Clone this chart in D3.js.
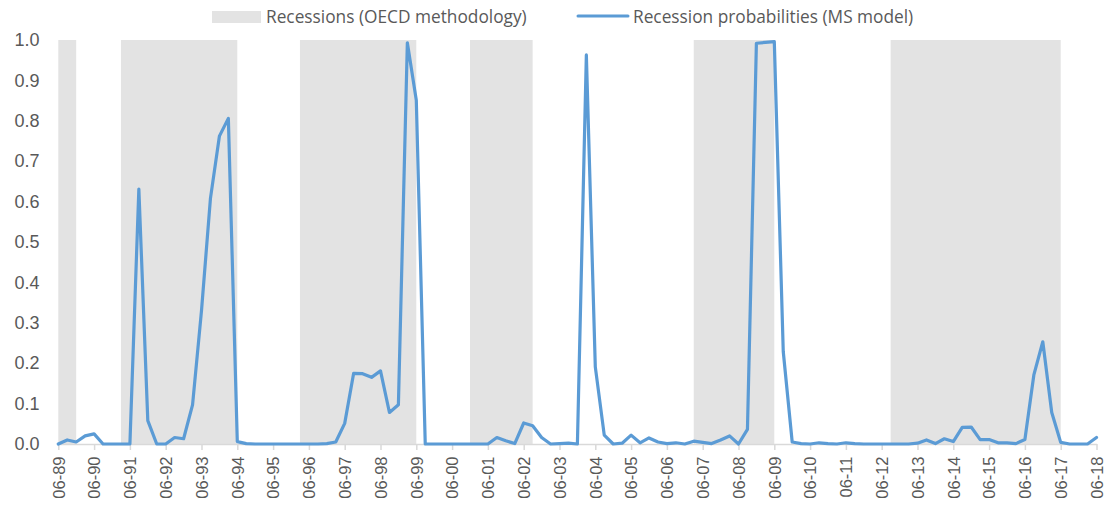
<!DOCTYPE html>
<html>
<head>
<meta charset="utf-8">
<script src="https://cdn.jsdelivr.net/npm/d3@7/dist/d3.min.js"></script>
<style>
  html, body { margin: 0; padding: 0; background: #fff; }
  svg { display: block; font-family: "Open Sans", "Noto Sans", sans-serif; }
</style>
</head>
<body>
<svg id="chart" width="1106" height="506"></svg>
<script>
// Quarterly categories (end-of-quarter month - year)
const quarters = [
  "06-89","09-89","12-89","03-90","06-90","09-90","12-90","03-91","06-91","09-91","12-91","03-92",
  "06-92","09-92","12-92","03-93","06-93","09-93","12-93","03-94","06-94","09-94","12-94","03-95",
  "06-95","09-95","12-95","03-96","06-96","09-96","12-96","03-97","06-97","09-97","12-97","03-98",
  "06-98","09-98","12-98","03-99","06-99","09-99","12-99","03-00","06-00","09-00","12-00","03-01",
  "06-01","09-01","12-01","03-02","06-02","09-02","12-02","03-03","06-03","09-03","12-03","03-04",
  "06-04","09-04","12-04","03-05","06-05","09-05","12-05","03-06","06-06","09-06","12-06","03-07",
  "06-07","09-07","12-07","03-08","06-08","09-08","12-08","03-09","06-09","09-09","12-09","03-10",
  "06-10","09-10","12-10","03-11","06-11","09-11","12-11","03-12","06-12","09-12","12-12","03-13",
  "06-13","09-13","12-13","03-14","06-14","09-14","12-14","03-15","06-15","09-15","12-15","03-16",
  "06-16","09-16","12-16","03-17","06-17","09-17","12-17","03-18","06-18"
];

// Recession probabilities (MS model)
const probabilities = [
  0.000,0.010,0.005,0.020,0.025,0.000,0.000,0.000,0.000,0.631,0.058,0.000,
  0.000,0.016,0.013,0.097,0.330,0.608,0.762,0.806,0.006,0.001,0.000,0.000,
  0.000,0.000,0.000,0.000,0.000,0.000,0.001,0.005,0.051,0.175,0.174,0.165,
  0.181,0.078,0.097,0.993,0.851,0.000,0.000,0.000,0.000,0.000,0.000,0.000,
  0.000,0.016,0.008,0.001,0.052,0.045,0.016,0.000,0.001,0.002,0.000,0.963,
  0.191,0.022,0.000,0.002,0.022,0.003,0.015,0.005,0.001,0.003,0.000,0.007,
  0.004,0.001,0.010,0.020,0.000,0.036,0.992,0.994,0.996,0.229,0.005,0.001,
  0.000,0.003,0.001,0.000,0.003,0.001,0.000,0.000,0.000,0.000,0.000,0.000,
  0.002,0.010,0.001,0.013,0.006,0.041,0.042,0.011,0.011,0.003,0.003,0.001,
  0.011,0.171,0.253,0.078,0.004,0.000,0.000,0.000,0.016
];

// Recession periods (OECD methodology): start and end quarter
const recessionStarts = ["06-89","03-91","03-96","12-00","03-07","09-12"];
const recessionEnds   = ["12-89","06-94","06-99","09-02","06-09","06-17"];

// Axis tick labels
const xTickLabels = ["06-89","06-90","06-91","06-92","06-93","06-94","06-95","06-96","06-97","06-98",
  "06-99","06-00","06-01","06-02","06-03","06-04","06-05","06-06","06-07","06-08","06-09","06-10",
  "06-11","06-12","06-13","06-14","06-15","06-16","06-17","06-18"];
const yTicks = [0, 0.1, 0.2, 0.3, 0.4, 0.5, 0.6, 0.7, 0.8, 0.9, 1.0];

const legendLabels = ["Recessions (OECD methodology)", "Recession probabilities (MS model)"];

const textColor = "#595959";
const shadeColor = "#e3e3e3";
const lineColor = "#5b9bd5";

const svg = d3.select("#chart");

const x = d3.scalePoint().domain(quarters).range([58.3, 1096.5]);
const y = d3.scaleLinear().domain([0, 1]).range([444, 40]);

// Recession shading
svg.append("g").selectAll("rect")
  .data(recessionStarts.map((s, i) => ({ s, e: recessionEnds[i] })))
  .join("rect")
  .attr("x", d => x(d.s))
  .attr("width", d => x(d.e) - x(d.s))
  .attr("y", y(1))
  .attr("height", y(0) - y(1))
  .attr("fill", shadeColor);

// Y axis (labels only)
const yAxis = svg.append("g")
  .attr("transform", "translate(40,0)")
  .call(d3.axisLeft(y).tickValues(yTicks).tickFormat(d3.format(".1f")).tickSize(0).tickPadding(0.5));
yAxis.select(".domain").remove();
yAxis.selectAll("text")
  .attr("fill", textColor)
  .style("font-size", "18px");

// X axis
const xAxis = svg.append("g")
  .attr("transform", `translate(0,${y(0)})`)
  .call(d3.axisBottom(x).tickValues(xTickLabels).tickSize(6).tickSizeOuter(0));
xAxis.select(".domain").attr("stroke", "#d9d9d9").attr("stroke-width", 1.5);
xAxis.selectAll(".tick line").attr("stroke", "#d9d9d9").attr("stroke-width", 1.5);
xAxis.selectAll(".tick text")
  .attr("fill", textColor)
  .style("font-size", "16.5px")
  .attr("transform", "rotate(-90)")
  .attr("x", -12.5)
  .attr("y", 0)
  .attr("dy", "0.35em")
  .style("text-anchor", "end");

// Line
const line = d3.line()
  .x((d, i) => x(quarters[i]))
  .y(d => y(d));
svg.append("path")
  .datum(probabilities)
  .attr("d", line)
  .attr("fill", "none")
  .attr("stroke", lineColor)
  .attr("stroke-width", 3.2)
  .attr("stroke-linejoin", "round")
  .attr("stroke-linecap", "round");

// Legend
const legend = svg.append("g");
legend.append("rect")
  .attr("x", 212).attr("y", 11).attr("width", 49).attr("height", 12)
  .attr("fill", shadeColor);
legend.append("text")
  .attr("x", 266).attr("y", 23)
  .attr("fill", textColor)
  .style("font-size", "17.3px")
  .text(legendLabels[0]);
legend.append("line")
  .attr("x1", 578).attr("x2", 628).attr("y1", 16).attr("y2", 16)
  .attr("stroke", lineColor).attr("stroke-width", 3).attr("stroke-linecap", "round");
legend.append("text")
  .attr("x", 633).attr("y", 23)
  .attr("fill", textColor)
  .style("font-size", "17.3px")
  .text(legendLabels[1]);
</script>
</body>
</html>
